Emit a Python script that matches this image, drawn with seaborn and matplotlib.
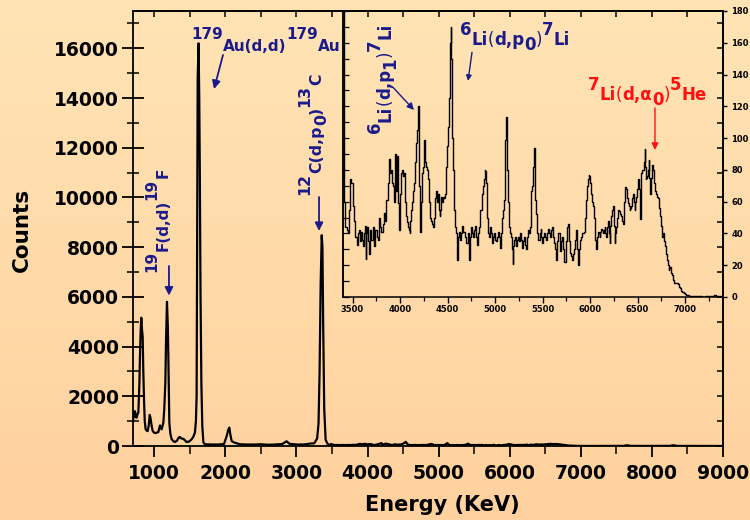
import numpy as np
import matplotlib
matplotlib.use("Agg")
import matplotlib.pyplot as plt
from matplotlib.ticker import MultipleLocator
import seaborn as sns

# ---------------- data ----------------
main_energy = [700, 715, 728, 740, 752, 765, 775, 790, 800, 810, 817, 826, 836, 845, 855, 865, 878,
               892, 906, 920, 935, 945, 963, 978, 995, 1020, 1040, 1056, 1068, 1080, 1092, 1103, 1115,
               1127, 1140, 1155, 1165, 1178, 1190, 1197, 1205, 1211, 1225, 1244, 1265, 1291, 1320, 1345,
               1360, 1380, 1407, 1430, 1454, 1490, 1525, 1550, 1571, 1585, 1595, 1603, 1610, 1622, 1632,
               1640, 1650, 1662, 1675, 1690, 1710, 1800, 1900, 1980, 2018, 2040, 2055, 2070, 2088, 2110,
               2135, 2205, 2300, 2400, 2500, 2600, 2700, 2800, 2860, 2900, 3000, 3100, 3200, 3250, 3290,
               3310, 3325, 3340, 3355, 3365, 3375, 3390, 3410, 3440]
main_counts = [1000, 1350, 1400, 1150, 1140, 1300, 1340, 2500, 3900, 4800, 5160, 4700, 4400, 3000, 1880,
               1000, 670, 620, 600, 800, 1250, 1150, 800, 600, 540, 520, 540, 560, 700, 830, 720, 670,
               800, 940, 1500, 2550, 4300, 5800, 4800, 3620, 2000, 940, 500, 270, 200, 160, 220, 350,
               360, 300, 290, 230, 160, 180, 270, 380, 540, 1000, 2000, 8800, 14800, 16200, 14000,
               11000, 6000, 2500, 800, 150, 70, 60, 60, 80, 400, 650, 740, 450, 200, 160,
               130, 70, 60, 60, 70, 50, 60, 80, 190, 90, 60, 60, 100, 110, 300,
               900, 3000, 6500, 8480, 8000, 5000, 1500, 250, 75]
tail_energy = [7450, 7600, 7650, 7700, 7900, 8250, 8300, 8350, 8600, 9000]
tail_counts = [2, 5, 30, 5, 3, 5, 30, 4, 2, 0]

inset_energy = [3400, 3411, 3420, 3432, 3445, 3456, 3468, 3481, 3495, 3509, 3526, 3537, 3551, 3560, 3572,
                3582, 3593, 3603, 3614, 3624, 3632, 3642, 3650, 3656, 3667, 3677, 3691, 3705, 3719, 3733,
                3747, 3760, 3772, 3789, 3800, 3807, 3825, 3842, 3850, 3860, 3877, 3886, 3895, 3903, 3912,
                3920, 3930, 3940, 3947, 3955, 3965, 3976, 3989, 4000, 4010, 4018, 4025, 4035, 4045, 4053,
                4062, 4070, 4080, 4088, 4098, 4105, 4115, 4123, 4132, 4140, 4150, 4158, 4167, 4175, 4185,
                4193, 4200, 4204, 4210, 4218, 4226, 4232, 4240, 4246, 4256, 4263, 4272, 4281, 4290, 4298,
                4307, 4316, 4325, 4333, 4342, 4351, 4360, 4368, 4377, 4386, 4395, 4404, 4412, 4421, 4430,
                4439, 4448, 4456, 4470, 4484, 4491, 4500, 4509, 4518, 4525, 4532, 4537, 4542, 4548, 4555,
                4562, 4570, 4579, 4590, 4597, 4604, 4615, 4625, 4637, 4649, 4660, 4674, 4688, 4702, 4712,
                4722, 4733, 4744, 4754, 4763, 4772, 4784, 4796, 4806, 4817, 4828, 4838, 4852, 4870, 4880,
                4888, 4895, 4902, 4909, 4916, 4923, 4930, 4940, 4951, 4962, 4972, 4982, 4993, 5005, 5017,
                5030, 5042, 5052, 5063, 5072, 5081, 5090, 5098, 5105, 5112, 5118, 5123, 5128, 5133, 5140,
                5151, 5163, 5175, 5182, 5189, 5200, 5210, 5219, 5228, 5236, 5245, 5256, 5266, 5277, 5288,
                5298, 5308, 5319, 5330, 5340, 5351, 5362, 5372, 5380, 5386, 5393, 5400, 5408, 5417, 5422,
                5428, 5435, 5442, 5452, 5463, 5474, 5484, 5494, 5505, 5515, 5526, 5536, 5547, 5557, 5568,
                5578, 5589, 5600, 5610, 5620, 5631, 5640, 5649, 5660, 5674, 5684, 5694, 5705, 5716, 5726,
                5737, 5748, 5758, 5768, 5779, 5788, 5796, 5805, 5814, 5825, 5835, 5845, 5856, 5866, 5877,
                5888, 5898, 5908, 5919, 5930, 5940, 5950, 5961, 5968, 5975, 5982, 5989, 5995, 6003, 6010,
                6018, 6027, 6035, 6044, 6053, 6062, 6070, 6080, 6088, 6096, 6105, 6114, 6123, 6132, 6140,
                6150, 6158, 6167, 6175, 6184, 6193, 6202, 6211, 6220, 6228, 6237, 6246, 6255, 6263, 6272,
                6281, 6290, 6298, 6307, 6316, 6325, 6333, 6342, 6351, 6360, 6368, 6377, 6386, 6395, 6404,
                6412, 6421, 6430, 6439, 6448, 6456, 6465, 6474, 6483, 6491, 6500, 6509, 6517, 6526, 6533,
                6538, 6544, 6552, 6561, 6570, 6579, 6584, 6590, 6597, 6604, 6612, 6621, 6630, 6639, 6647,
                6656, 6665, 6674, 6682, 6691, 6700, 6709, 6718, 6726, 6735, 6744, 6752, 6761, 6770, 6779,
                6788, 6797, 6806, 6814, 6823, 6832, 6840, 6849, 6858, 6867, 6876, 6884, 6893, 6902, 6910,
                6919, 6928, 6937, 6946, 6954, 6963, 6972, 6981, 6990, 7005, 7018, 7035, 7053, 7090, 7123,
                7160, 7193, 7230, 7263, 7290, 7316, 7340, 7369, 7400]
inset_counts = [250, 74, 60, 44, 42, 40, 55, 74, 72, 57, 48, 38, 33, 40, 42,
                35, 41, 36, 32, 40, 45, 24, 40, 44, 35, 27, 42, 36, 44, 32,
                42, 38, 36, 50, 44, 41, 46, 53, 48, 61, 72, 87, 85, 78, 80,
                72, 70, 60, 83, 90, 67, 89, 59, 42, 65, 78, 80, 76, 78, 65,
                60, 51, 47, 44, 42, 40, 48, 55, 60, 67, 72, 78, 85, 97, 105,
                120, 90, 70, 55, 41, 60, 67, 78, 82, 99, 89, 85, 82, 80, 74,
                60, 55, 50, 48, 46, 44, 50, 55, 62, 67, 60, 65, 55, 51, 55,
                63, 60, 63, 62, 65, 82, 95, 107, 125, 135, 160, 170, 150, 130, 100,
                80, 55, 44, 42, 40, 23, 38, 41, 36, 40, 45, 41, 38, 34, 34,
                40, 23, 38, 44, 40, 38, 42, 45, 38, 33, 40, 44, 55, 65, 70,
                74, 80, 79, 72, 63, 50, 40, 38, 44, 40, 34, 38, 40, 36, 35,
                38, 41, 38, 31, 40, 50, 55, 61, 80, 99, 108, 113, 95, 80, 60,
                44, 40, 38, 30, 21, 32, 36, 38, 32, 36, 38, 35, 40, 36, 31,
                35, 38, 33, 30, 38, 42, 40, 44, 55, 67, 70, 72, 82, 94, 75,
                61, 52, 44, 40, 36, 40, 43, 38, 34, 38, 40, 38, 36, 40, 43,
                40, 38, 42, 44, 38, 34, 30, 23, 35, 40, 34, 29, 35, 38, 30,
                22, 35, 41, 44, 46, 35, 28, 26, 23, 27, 30, 36, 42, 30, 20,
                30, 36, 38, 40, 40, 41, 50, 61, 66, 70, 74, 77, 76, 72, 70,
                65, 60, 57, 50, 46, 36, 30, 38, 41, 40, 38, 41, 43, 42, 40,
                42, 44, 40, 38, 44, 48, 40, 34, 45, 51, 55, 57, 45, 34, 40,
                44, 50, 55, 54, 53, 52, 51, 48, 46, 60, 67, 69, 68, 62, 59,
                57, 55, 56, 57, 62, 65, 60, 55, 60, 63, 68, 74, 68, 63, 49,
                65, 78, 80, 80, 85, 93, 82, 74, 75, 76, 80, 86, 75, 65, 75,
                83, 80, 76, 72, 67, 65, 63, 62, 61, 56, 51, 45, 38, 40, 40,
                35, 32, 27, 23, 20, 17, 18, 19, 15, 14, 11, 10, 9, 9, 9,
                9, 8, 8, 6, 5.5, 4, 3.4, 3, 2.7, 2, 1.3, 1, 0.6, 0.6, 0.6,
                0.4, 0.2, 0.5, 0.6, 0.8, 1, 0.7, 0.6, 0.5]

x_major_ticks = [1000, 2000, 3000, 4000, 5000, 6000, 7000, 8000, 9000]
y_major_ticks = [0, 2000, 4000, 6000, 8000, 10000, 12000, 14000, 16000]
inset_x_ticks = [3500, 4000, 4500, 5000, 5500, 6000, 6500, 7000]
inset_y_ticks = [0, 20, 40, 60, 80, 100, 120, 140, 160, 180]

NAVY = "#1a1a8a"
RED = "#ff1010"

# ---------------- style ----------------
sns.set_theme(style="ticks")
plt.rcParams["font.family"] = ["DejaVu Sans"]
plt.rcParams["axes.linewidth"] = 1.3
plt.rcParams["xtick.color"] = "black"
plt.rcParams["ytick.color"] = "black"

fig = plt.figure(figsize=(7.5, 5.2), dpi=100)

# gradient background
bg = fig.add_axes([0, 0, 1, 1], zorder=-5)
top = np.array([255, 228, 181]) / 255.0
bot = np.array([255, 209, 158]) / 255.0
t = np.linspace(0, 1, 256)[:, None, None]
grad = top * (1 - t) + bot * t
bg.imshow(grad, aspect="auto", extent=[0, 1, 0, 1], interpolation="bilinear")
bg.set_axis_off()

# ---------------- main axes ----------------
ax = fig.add_axes([133 / 750, 74 / 520, 590 / 750, 435 / 520], zorder=1)
ax.set_facecolor("none")
full_x = list(main_energy) + [e for e in inset_energy if e > main_energy[-1]] + list(tail_energy)
full_y = list(main_counts) + [c for e, c in zip(inset_energy, inset_counts) if e > main_energy[-1]] + list(tail_counts)
sns.lineplot(x=full_x, y=full_y, ax=ax, color="black", linewidth=1.6, estimator=None, sort=False)
ax.set_xlim(700, 9000)
ax.set_ylim(0, 17500)
ax.set_xticks(x_major_ticks)
ax.set_yticks(y_major_ticks)
ax.xaxis.set_minor_locator(MultipleLocator(500))
ax.yaxis.set_minor_locator(MultipleLocator(1000))
ax.tick_params(axis="x", which="major", direction="out", length=8, width=1.3, labelsize=13.5, pad=5)
ax.tick_params(axis="x", which="minor", direction="out", length=6, width=1.1)
ax.tick_params(axis="y", which="major", direction="inout", length=16, width=1.3, labelsize=13.5, pad=2)
ax.tick_params(axis="y", which="minor", direction="inout", length=8, width=1.1)
for lab in ax.get_xticklabels() + ax.get_yticklabels():
    lab.set_fontweight("bold")
for s in ax.spines.values():
    s.set_color("black")
    s.set_linewidth(1.3)

sx = ax.secondary_xaxis("top")
sx.xaxis.set_major_locator(MultipleLocator(500))
sx.tick_params(axis="x", which="both", direction="in", length=4, width=1.1, labeltop=False)
sy = ax.secondary_yaxis("right")
sy.yaxis.set_major_locator(MultipleLocator(1000))
sy.tick_params(axis="y", which="both", direction="in", length=4, width=1.1, labelright=False)

ax.set_xlabel("Energy (KeV)", fontsize=15, fontweight="bold", color="black")
ax.xaxis.set_label_coords(0.524, -0.112)
ax.set_ylabel("Counts", fontsize=15.5, fontweight="bold", color="black")
ax.yaxis.set_label_coords(-0.172, 0.497)


def rich(axx, x, y, pieces, color, size, rotation=0):
    prev = None
    prev_shift = 0.0
    for txt, shift, weight in pieces:
        kw = dict(color=color, fontsize=size, fontweight=weight,
                  textcoords="offset points", annotation_clip=False)
        if rotation == 0:
            if prev is None:
                tt = axx.annotate(txt, xy=(x, y), xycoords="data", xytext=(0, shift),
                                  ha="left", va="bottom", **kw)
            else:
                tt = axx.annotate(txt, xy=(1, 0), xycoords=prev, xytext=(0, shift - prev_shift),
                                  ha="left", va="bottom", **kw)
        else:
            if prev is None:
                tt = axx.annotate(txt, xy=(x, y), xycoords="data", xytext=(-shift, 0),
                                  ha="right", va="bottom", rotation=90, **kw)
            else:
                tt = axx.annotate(txt, xy=(1, 1), xycoords=prev, xytext=(-(shift - prev_shift), 0),
                                  ha="right", va="bottom", rotation=90, **kw)
        prev = tt
        prev_shift = shift


def arrow(axx, x0, y0, x1, y1, color, lw=1.3, ms=12):
    axx.annotate("", xy=(x1, y1), xytext=(x0, y0), xycoords="data", textcoords="data",
                 arrowprops=dict(arrowstyle="-|>", color=color, lw=lw, mutation_scale=ms,
                                 shrinkA=0, shrinkB=0), annotation_clip=False)


B = "bold"
N = "normal"
rich(ax, 1516, 15790, [("179", 8.6, B), ("Au(d,d)", 0, B), ("179", 8.6, B), ("Au", 0, B)], NAVY, 11)
arrow(ax, 1966, 15730, 1840, 14360, NAVY)
rich(ax, 1229, 7000, [("19", 8.3, B), ("F(d,d)", 0, B), ("19", 8.3, B), ("F", 0, B)], NAVY, 11, rotation=90)
arrow(ax, 1206, 7241, 1206, 6050, NAVY)
rich(ax, 3387, 10098, [("12", 8.6, B), ("C(d,p", 0, B), ("0", -3.5, B), (")", 0, B), ("13", 8.6, B), ("C", 0, B)],
     NAVY, 11.3, rotation=90)
arrow(ax, 3317, 10017, 3317, 8650, NAVY)

# ---------------- inset ----------------
axin = fig.add_axes([343 / 750, 223 / 520, 380 / 750, 286 / 520], zorder=2)
axin.set_facecolor("none")
sns.lineplot(x=inset_energy, y=inset_counts, ax=axin, color="black", linewidth=1.0,
             estimator=None, sort=False, drawstyle="steps-mid")
axin.set_xlim(3400, 7400)
axin.set_ylim(0, 180)
axin.set_xticks(inset_x_ticks)
axin.xaxis.set_minor_locator(MultipleLocator(250))
axin.yaxis.tick_right()
axin.set_yticks(inset_y_ticks)
axin.tick_params(axis="x", which="major", direction="out", length=4, width=1.0, labelsize=6, pad=2)
axin.tick_params(axis="x", which="minor", direction="out", length=3, width=0.9)
axin.tick_params(axis="y", which="major", direction="out", length=3, width=1.0, labelsize=6, pad=3)
for lab in axin.get_xticklabels() + axin.get_yticklabels():
    lab.set_fontweight("bold")
for s in axin.spines.values():
    s.set_color("black")
    s.set_linewidth(1.1)
axin.set_xlabel("")
axin.set_ylabel("")
sl = axin.secondary_yaxis("left")
sl.yaxis.set_major_locator(MultipleLocator(10))
sl.tick_params(axis="y", which="both", direction="in", length=4, width=0.9, labelleft=False)

rich(axin, 3937, 103.2, [("6", 7.5, B), ("Li", 0, B), ("(", 0, N), ("d,p", 0, B), ("1", -3.5, B), (")", 0, N),
                         ("7", 7.5, B), ("Li", 0, B)], NAVY, 12, rotation=90)
arrow(axin, 3926, 132, 4147, 117.7, NAVY, lw=1.0, ms=10)
rich(axin, 4632, 156, [("6", 7.5, B), ("Li", 0, B), ("(", 0, N), ("d,p", 0, B), ("0", -3.5, B), (")", 0, N),
                       ("7", 7.5, B), ("Li", 0, B)], NAVY, 12)
arrow(axin, 4758, 154, 4716, 136, NAVY, lw=1.0, ms=8)
rich(axin, 5979, 121.5, [("7", 7.5, B), ("Li", 0, B), ("(", 0, N), ("d,α", 0, B), ("0", -3.5, B), (")", 0, N),
                         ("5", 7.5, B), ("He", 0, B)], RED, 12)
arrow(axin, 6684, 119, 6684, 92.5, RED, lw=1.0, ms=10)

fig.savefig("out.png", dpi=100)
